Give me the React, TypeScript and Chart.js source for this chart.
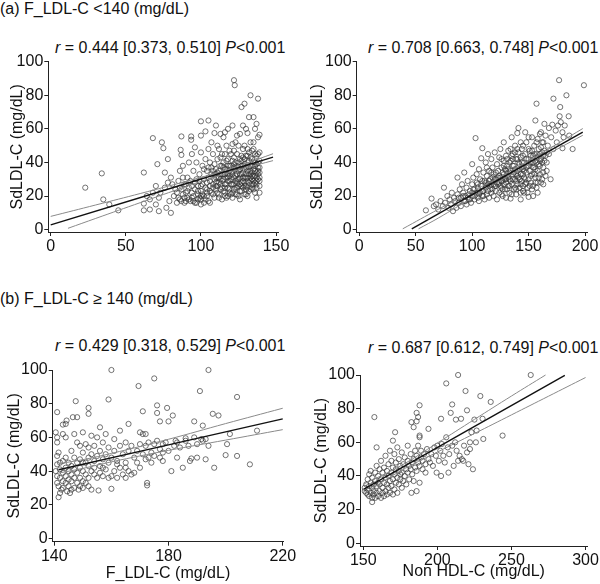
import React, { useEffect, useRef } from "react";
import { Chart, registerables } from "chart.js";

Chart.register(...registerables);

const FONT = '"Liberation Sans", Arial, Helvetica, sans-serif';
const TICK_FONT = '"Liberation Sans Narrow", "Liberation Sans", Arial, sans-serif';

// ---------------- tick labels ----------------
const yTicks = [0, 20, 40, 60, 80, 100];
const p1XTicks = [0, 50, 100, 150];
const p2XTicks = [0, 50, 100, 150, 200];
const p3XTicks = [140, 180, 220];
const p4XTicks = [150, 200, 250, 300];

// ---------------- texts ----------------
const headerA = "(a) F_LDL-C <140 (mg/dL)";
const headerB = "(b) F_LDL-C \u2265 140 (mg/dL)";
const yTitle = "SdLDL-C (mg/dL)";
const p3XTitle = "F_LDL-C (mg/dL)";
const p4XTitle = "Non HDL-C (mg/dL)";
const stats1 = ["0.444 [0.373, 0.510]", "<0.001"];
const stats2 = ["0.708 [0.663, 0.748]", "<0.001"];
const stats3 = ["0.429 [0.318, 0.529]", "<0.001"];
const stats4 = ["0.687 [0.612, 0.749]", "<0.001"];

// ---------------- panel 1: F_LDL-C <140, x = F_LDL-C ----------------
const p1Points: number[][] = [
  [23, 25], [34, 33.5], [35, 18], [39, 15], [45, 11.5], [62, 34], [62, 11.5], [62, 15.5], [64, 20], [66, 18],
  [68, 54.5], [74, 52], [75, 48.5], [71, 39], [78, 42], [76, 34], [80, 10], [70, 15], [72, 19], [70, 26],
  [73, 22], [68, 22], [66, 12], [72, 11], [77, 13], [79, 17], [76, 25], [78, 28], [80, 31], [82, 20],
  [83, 24], [84, 16], [85, 29], [86, 35], [87, 55.5], [86.5, 47.5], [87, 44.5], [88, 38], [89, 27], [90, 22],
  [90, 17], [91, 31], [92, 25], [93, 17], [93.5, 55.5], [93.5, 53.5], [94, 45], [95, 35], [95, 20], [96, 28],
  [96, 16], [97, 40], [98, 23], [98, 18], [99, 33], [100, 64.5], [100, 56], [100, 46], [100, 26], [100, 15],
  [101, 38], [102, 30], [102, 20], [103, 58.5], [103, 42], [104, 24], [104, 35], [105, 65], [105, 48], [105, 17],
  [106, 29], [106, 40], [107, 22], [107, 33], [108, 45], [108, 27], [109, 57.5], [109, 19], [110, 36], [110, 24],
  [110, 31], [111, 50], [111, 42], [112, 21], [112, 28], [113, 38], [113, 33], [114, 18], [114, 25], [114, 45],
  [115, 30], [115, 55], [116, 22], [116, 36], [117, 41], [117, 27], [118, 60], [118, 33], [118, 20], [119, 47],
  [119, 24], [120, 38], [120, 30], [121, 62], [121, 35], [121, 22], [122, 89], [122.5, 86], [122, 43], [122, 27],
  [123, 52], [123, 32], [124, 25], [124, 38], [124, 45], [125, 30], [125, 20], [125, 35], [126, 42], [126, 27],
  [126, 57], [127, 73], [127, 33], [127, 23], [128, 48], [128, 38], [128, 29], [129, 75], [129, 36], [129, 26],
  [130, 44], [130, 31], [130, 21], [131, 57.5], [131, 20], [131, 35], [131, 40], [132, 67], [132, 28], [132, 46],
  [133, 80], [133, 33], [133, 24], [133, 52], [134, 38], [134, 42], [134, 30], [135, 67], [135, 27], [135, 36],
  [135, 48], [136, 60], [136, 32], [136, 22], [137, 63], [137, 19], [137, 44], [137, 29], [138, 78], [138, 35],
  [138, 40], [138, 55], [139, 56.5], [139, 31], [139, 46], [139, 26], [100, 20], [103, 18], [106, 16], [108, 35],
  [111, 26], [115, 40], [119, 29], [123, 21], [127, 44], [129, 42], [132, 37], [134, 34], [136, 40], [120, 45],
  [117, 50], [112, 48], [96, 49], [92, 40], [88, 31], [84, 22], [81, 27], [99, 29], [102, 36], [107, 52],
  [113, 57], [116, 58], [124, 56], [128, 62], [130, 60], [125, 50], [121, 51], [110, 62], [118, 29], [126, 36],
  [131, 31], [133, 29], [137, 34], [138, 30], [139, 37], [136, 45], [134, 25], [128, 34], [122, 37], [119, 35],
  [114, 33], [109, 30], [104, 28], [98, 21], [94, 26], [91, 19], [87, 24], [105, 31], [106, 23], [107, 37],
  [108, 21], [109, 39], [110, 28], [111, 34], [112, 31], [113, 24], [113, 43], [114, 29], [115, 23], [115, 37],
  [116, 33], [116, 27], [117, 31], [117, 19], [118, 25], [118, 42], [119, 38], [120, 21], [120, 34], [121, 27],
  [121, 41], [122, 31], [122, 24], [123, 36], [123, 29], [124, 33], [124, 21], [125, 40], [125, 26], [126, 31],
  [126, 23], [127, 38], [127, 28], [128, 25], [128, 43], [129, 31], [129, 21], [130, 37], [130, 26], [131, 29],
  [131, 44], [132, 33], [132, 23], [133, 38], [133, 43], [134, 27], [134, 47], [135, 32], [135, 40], [136, 28],
  [136, 35], [137, 39], [137, 25], [138, 33], [138, 45], [139, 29], [139, 41], [85, 19], [86, 25], [87, 17],
  [88, 21], [89, 19], [90, 27], [91, 23], [92, 18], [93, 29], [94, 22], [95, 17], [96, 24], [97, 30],
  [98, 26], [99, 19], [100, 23], [101, 27], [102, 16], [103, 25], [104, 20], [110, 26], [111, 22], [112, 35],
  [113, 27], [114, 38], [115, 33], [116, 25], [117, 36], [118, 31], [119, 22], [120, 27], [121, 33], [122, 39],
  [123, 25], [124, 30], [125, 37], [126, 33], [127, 26], [128, 31], [129, 39], [130, 33], [131, 25], [132, 41],
  [133, 35], [134, 32], [135, 29], [136, 38], [137, 31], [138, 37], [139, 34], [112, 19], [116, 20], [121, 19],
  [126, 18], [130, 24], [135, 24], [139, 22], [108, 25], [104, 22], [100, 18], [97, 16], [94, 19], [89, 16],
  [86, 18], [101, 21], [106, 26], [111, 31], [119, 32], [124, 28], [129, 28], [133, 31], [137, 27], [127, 41],
  [123, 40], [118, 38], [113, 30], [109, 33], [105, 37], [131, 48], [135, 52], [129, 50], [122, 47], [116, 45],
];
const p1Fit: number[][] = [[0, 2.8], [148, 43.2]];
const p1Upper: number[][] = [[0, 7.9], [30, 14.7], [60, 21.6], [90, 28.7], [110, 33.7], [130, 39.5], [148, 45.2]];
const p1Lower: number[][] = [[11.5, 0.8], [30, 6.7], [60, 16.2], [90, 25.6], [110, 31.6], [130, 36.8], [148, 41.1]];

// ---------------- panel 2: F_LDL-C <140, x = Non HDL-C ----------------
const p2Points: number[][] = [
  [59, 11.5], [64, 18.5], [66, 14], [68, 15], [70, 12], [72, 17], [75, 25], [74, 14], [76, 16], [78, 20],
  [79, 13], [80, 18], [81, 15], [82, 22], [83, 11], [84, 19], [85, 17], [86, 13], [87, 31], [87, 21],
  [88, 16], [89, 24], [90, 19], [90, 14], [91, 27], [92, 22], [93, 34], [93, 17], [94, 20], [95, 25],
  [95, 15], [96, 29], [97, 21], [97, 18], [98, 23], [99, 16], [100, 39], [100, 27], [100, 20], [101, 31],
  [102, 18], [102, 24], [103, 54.5], [103, 22], [104, 28], [104, 33], [105, 19], [105, 25], [106, 36], [106, 17],
  [107, 30], [107, 22], [108, 42.5], [108, 26], [109, 48.5], [109, 20], [110, 34], [110, 23], [111, 29], [111, 18],
  [112, 40], [112, 25], [113, 32], [113, 21], [114, 27], [114, 45], [115, 35], [115, 19], [116, 24], [116, 30],
  [117, 42], [117, 22], [118, 28], [118, 37], [119, 33], [119, 20], [120, 46], [120, 26], [121, 30], [121, 23],
  [122, 39], [122, 18], [123, 35], [123, 27], [124, 43], [124, 22], [125, 31], [125, 48], [126, 25], [126, 37],
  [127, 29], [127, 20], [128, 52], [128, 33], [128, 41], [129, 24], [129, 36], [130, 28], [130, 44], [130, 19],
  [131, 32], [131, 38], [132, 26], [132, 47], [133, 30], [133, 22], [134, 18.5], [134, 35], [134, 41], [135, 27],
  [135, 55], [136, 33], [136, 45], [137, 24], [137, 38], [138, 30], [138, 50], [139, 21], [139, 42], [140, 57.5],
  [140, 35], [140, 27], [141, 60.5], [141, 31], [141, 46], [142, 25], [142, 39], [143, 18], [143, 43], [143, 33],
  [144, 29], [144, 48], [145, 36], [145, 23], [146, 40], [146, 31], [147, 45], [147, 27], [148, 34], [148, 52],
  [149, 38], [149, 25], [150, 19.5], [150, 42], [150, 30], [151, 47], [151, 35], [152, 28], [152, 40], [153, 55],
  [153, 33], [154, 44], [154, 26], [155, 37], [155, 50], [156, 65], [156, 31], [156, 41], [157, 75], [157, 45],
  [158, 35], [158, 28], [159, 48], [159, 39], [160, 57], [160, 33], [161, 58], [161, 42], [162, 30], [162, 46],
  [163, 52], [163, 37], [164, 63], [164, 41], [165, 44], [165, 56], [166, 40], [167, 50], [168, 60.5], [168, 45],
  [169.5, 30], [170, 55], [171, 62.5], [172, 78], [172, 48], [174, 59], [175, 52], [177, 89], [177.5, 67.5], [178, 73],
  [178.5, 64], [180, 48.5], [180, 58], [182, 62], [183.5, 80], [185.5, 67.5], [186, 56], [189, 48], [199, 86], [176, 62],
  [181, 55], [166, 35], [163, 27], [158, 22], [154, 20], [146, 22], [138, 25], [129, 30], [126, 21], [112, 28],
  [115, 26], [118, 24], [120, 30], [122, 28], [124, 32], [126, 29], [128, 27], [130, 35], [132, 31], [134, 29],
  [136, 38], [138, 36], [140, 32], [142, 36], [144, 40], [146, 35], [148, 42], [150, 38], [152, 44], [154, 40],
  [156, 36], [158, 43], [160, 45], [162, 40], [164, 47], [145, 44], [141, 40], [137, 34], [133, 40], [127, 34],
  [123, 31], [119, 27], [114, 23], [110, 20], [106, 21], [102, 20], [98, 18], [94, 17], [131, 24], [135, 21],
  [139, 29], [143, 27], [147, 30], [151, 26], [155, 33], [159, 31], [163, 34], [158, 54], [150, 55], [143, 52],
  [147, 58], [138, 46], [134, 48], [126, 42], [117, 34], [113, 37], [109, 29], [105, 27], [101, 24], [115, 29],
  [118, 31], [121, 26], [124, 28], [127, 31], [130, 30], [133, 34], [136, 30], [139, 33], [142, 30], [145, 33],
  [148, 37], [151, 40], [154, 37], [157, 40], [160, 38], [163, 44], [148, 28], [152, 32], [156, 28], [160, 41],
  [144, 37], [140, 42], [136, 42], [132, 36], [128, 38], [125, 26], [121, 34], [117, 27], [113, 26], [109, 23],
  [105, 22], [100, 22], [96, 19], [92, 20], [88, 19], [140, 48], [145, 50], [150, 48], [155, 45], [161, 49],
  [166, 46], [162, 52], [157, 52], [153, 47], [135, 44], [131, 42], [127, 24], [143, 22], [149, 22], [157, 25],
  [161, 28], [165, 32], [153, 24], [145, 26], [139, 24], [133, 26],
];
const p2Fit: number[][] = [[46.5, 0.5], [198, 58.1]];
const p2Upper: number[][] = [[38.5, 0.5], [70, 12.1], [100, 22.7], [130, 33.4], [160, 44.9], [198, 60.2]];
const p2Lower: number[][] = [[52.5, 0.5], [70, 6.9], [100, 19.0], [130, 31.1], [160, 42.3], [198, 56.2]];

// ---------------- panel 3: F_LDL-C >=140, x = F_LDL-C ----------------
const p3Points: number[][] = [
  [160, 100], [194, 100], [175, 95], [169.5, 90.5], [191, 87.5], [204, 84], [159, 82.5], [147.5, 81.5], [141, 75], [152, 77.5],
  [152, 74], [146.5, 72], [148, 72], [144.3, 70], [143, 67.6], [171, 75.5], [176, 79], [179.5, 77.5], [176, 74.5], [181.5, 73],
  [180, 69.5], [177, 69.5], [195.5, 74], [197.5, 73], [189, 69.5], [192, 67], [201.5, 62], [211, 64], [200.5, 56], [204, 49],
  [208.5, 44], [196, 42], [200, 49.5], [193, 47], [190, 48], [188, 47.5], [187.5, 46], [185, 42], [181, 40], [172.5, 33],
  [172.5, 31.5], [141.5, 24.5], [155.5, 28.5], [160, 29.5], [191.5, 59], [186, 59.5], [182.5, 58], [140.5, 63], [141, 60], [141, 57],
  [141.5, 51], [141, 49], [141, 44], [140.5, 40], [141, 37], [141, 33], [141.5, 31], [142, 45], [142, 41], [142, 36],
  [142.5, 29], [142, 27], [143, 62], [143, 46], [143, 39], [143, 34], [143, 30], [144, 68], [144, 60], [144, 48],
  [144, 42], [144, 37], [144, 33], [144.5, 28], [145, 45], [145, 40], [145, 35], [145, 31], [145.5, 27], [146, 52],
  [146, 43], [146, 38], [146, 34], [146, 29], [147, 62], [147, 48], [147, 41], [147, 36], [147, 30], [148, 57],
  [148, 45], [148, 39], [148, 33], [148.5, 29], [149, 55], [149, 47], [149, 42], [149, 36], [149, 31], [150, 63],
  [150, 51], [150, 40], [150, 34], [150, 30], [151, 56], [151, 45], [151, 38], [151, 33], [152, 54], [152, 48],
  [152, 43], [152, 36], [152, 31], [153, 61], [153, 50], [153, 40], [153, 29], [154, 55], [154, 46], [154, 38],
  [154, 42], [155, 49], [155, 36], [155, 60], [156, 66], [156, 52], [156, 43], [156, 39], [157, 57], [157, 47],
  [157, 37], [158, 62], [158, 50], [158, 41], [159, 54], [159, 45], [159, 36], [160, 48], [160, 37], [161, 59],
  [161, 52], [161, 40], [162, 46], [162, 36], [163, 64], [163, 55], [163, 42], [164, 50], [164, 38], [165, 57],
  [165, 45], [165, 36], [166, 68], [166, 52], [166, 40], [167, 55], [167, 38], [168, 48], [168, 39], [169, 52],
  [169, 45], [170, 63], [170, 56], [170, 42], [171, 62], [171, 50], [172, 62], [172, 55], [172, 47], [173, 57],
  [173, 48], [174, 51], [174, 45], [175, 56], [175, 49], [176, 58], [177, 53], [177, 48], [178, 56], [178, 51],
  [179, 57], [180, 52], [182, 55], [183, 57], [184, 54], [186, 58], [187, 55], [189, 60], [190, 56], [192, 58],
  [193, 59], [194, 55], [183, 48], [178, 46], [165, 42], [162, 44], [157, 42], [150, 45],
];
const p3Fit: number[][] = [[141.5, 40.8], [220, 71.0]];
const p3Upper: number[][] = [[141.5, 44.4], [150, 46.8], [160, 50.5], [180, 58.9], [200, 68.2], [220, 77.3]];
const p3Lower: number[][] = [[141.5, 38.8], [150, 41.6], [160, 45.5], [180, 52.3], [200, 58.4], [220, 64.6]];

// ---------------- panel 4: F_LDL-C >=140, x = Non HDL-C ----------------
const p4Points: number[][] = [
  [214, 100], [263, 100], [206, 95], [219, 90.5], [229, 87.5], [236, 84], [157.5, 75], [188, 82], [186, 77.5], [187, 75],
  [186, 72.5], [210, 82.5], [209, 77.5], [220, 79], [212.5, 73.5], [216, 74], [202.5, 74], [225, 73.5], [230.5, 74], [244, 64],
  [226.5, 67], [231, 62], [224, 44], [222, 56], [222, 60], [216.5, 50], [217.5, 49], [202.5, 40], [199.5, 42], [207.5, 42],
  [182.5, 30], [186, 31], [156, 24.5], [159, 57], [171.5, 66], [170, 61], [182.5, 72], [184, 69], [188, 64], [188, 63],
  [194, 68], [151, 31], [151, 33], [152, 30], [152, 35], [153, 29], [153, 32], [153, 38], [154, 28], [154, 34],
  [154, 41], [155, 30], [155, 36], [155, 43], [156, 27], [156, 33], [156, 39], [157, 29], [157, 35], [157, 31],
  [158, 27], [158, 37], [158, 42], [159, 30], [159, 34], [159, 46], [160, 28], [160, 36], [160, 40], [161, 31],
  [161, 44], [161, 35], [162, 27], [162, 38], [162, 49], [163, 30], [163, 33], [163, 42], [164, 28], [164, 36],
  [164, 45], [165, 31], [165, 39], [165, 52], [166, 29], [166, 35], [166, 43], [167, 33], [167, 40], [167, 47],
  [168, 30], [168, 37], [168, 55], [169, 34], [169, 42], [169, 49], [170, 29], [170, 38], [170, 45], [171, 32],
  [171, 41], [171, 53], [172, 36], [172, 44], [172, 48], [173, 30], [173, 39], [173, 57], [174, 35], [174, 43],
  [174, 50], [175, 38], [175, 46], [175, 41], [176, 33], [176, 42], [176, 54], [177, 37], [177, 47], [178, 40],
  [178, 51], [179, 35], [179, 44], [180, 42], [180, 49], [180, 58], [181, 38], [181, 46], [182, 44], [182, 53],
  [183, 41], [183, 48], [184, 50], [184, 37], [185, 45], [185, 55], [186, 43], [186, 52], [187, 48], [187, 58],
  [188, 46], [188, 36], [189, 51], [189, 55], [190, 44], [190, 49], [191, 53], [192, 47], [192, 42], [193, 56],
  [194, 50], [195, 48], [196, 53], [197, 46], [198, 57], [199, 52], [200, 58], [201, 49], [202, 55], [203, 59],
  [204, 52], [205, 48], [206, 63], [207, 57], [208, 53], [210, 58], [211, 46], [212, 60], [213, 55], [214, 49],
  [215, 52], [218, 58], [220, 54], [221, 47], [223, 66], [226, 60],
];
const p4Fit: number[][] = [[150.5, 32.2], [286, 99.8]];
const p4Upper: number[][] = [[150.5, 35.3], [175, 45.9], [200, 59.6], [225, 73.6], [250, 87.5], [273, 100]];
const p4Lower: number[][] = [[150.5, 29.5], [175, 42.9], [200, 54.2], [225, 65.2], [250, 76.3], [275, 87.4], [300, 98.5]];

type PanelProps = {
  points: number[][];
  fit: number[][];
  upper: number[][];
  lower: number[][];
  xTicks: number[];
  xMin: number;
  xMax: number;
  yMin: number;
  xTitle?: string;
  left: number;
  top: number;
  width: number;
  height: number;
  yScaleWidth: number;
  xScaleHeight: number;
  padTop: number;
  padRight: number;
  yTitlePad: number;
  xTitlePad: number;
};

const toXY = (arr: number[][]) => arr.map(([x, y]) => ({ x, y }));

function Panel(p: PanelProps) {
  const ref = useRef<HTMLCanvasElement | null>(null);
  useEffect(() => {
    if (!ref.current) return;
    const lineDs = (data: number[][], color: string, w: number) => ({
      data: toXY(data),
      showLine: true,
      pointRadius: 0,
      borderColor: color,
      borderWidth: w,
      fill: false,
      tension: 0.4,
      clip: false as any,
    });
    const chart = new Chart(ref.current, {
      type: "scatter",
      data: {
        datasets: [
          lineDs(p.fit, "#111111", 1.4),
          lineDs(p.upper, "#8a8a8a", 1),
          lineDs(p.lower, "#8a8a8a", 1),
          {
            data: toXY(p.points),
            showLine: false,
            pointRadius: 2.6,
            pointHoverRadius: 2.6,
            pointBorderWidth: 0.8,
            borderColor: "rgba(50,50,50,0.85)",
            backgroundColor: "rgba(0,0,0,0)",
            pointBackgroundColor: "rgba(0,0,0,0)",
            clip: false as any,
          } as any,
        ],
      },
      options: {
        animation: false,
        responsive: false,
        events: [],
        layout: { padding: { left: 0, top: p.padTop, right: p.padRight, bottom: 0 } },
        plugins: { legend: { display: false }, tooltip: { enabled: false }, title: { display: false } },
        scales: {
          x: {
            type: "linear",
            min: p.xMin,
            max: p.xMax,
            afterBuildTicks: (s: any) => {
              s.ticks = p.xTicks.map((v) => ({ value: v }));
            },
            afterFit: (s: any) => {
              s.height = p.xScaleHeight;
            },
            grid: { display: true, drawOnChartArea: false, drawTicks: true, tickLength: 4, color: "#222", lineWidth: 1 },
            border: { display: true, color: "#222", width: 1 },
            ticks: {
              color: "#111",
              font: { family: TICK_FONT, size: 16 },
              padding: 1,
              maxRotation: 0,
              autoSkip: false,
              callback: (v: any) => String(v),
            },
            title: p.xTitle
              ? {
                  display: true,
                  text: p.xTitle,
                  color: "#111",
                  font: { family: FONT, size: 16 },
                  padding: { top: 0, bottom: p.xTitlePad },
                }
              : { display: false },
          },
          y: {
            type: "linear",
            min: p.yMin,
            max: 100,
            afterBuildTicks: (s: any) => {
              s.ticks = yTicks.map((v) => ({ value: v }));
            },
            afterFit: (s: any) => {
              s.width = p.yScaleWidth;
            },
            grid: { display: true, drawOnChartArea: false, drawTicks: true, tickLength: 4, color: "#222", lineWidth: 1 },
            border: { display: true, color: "#222", width: 1 },
            ticks: {
              color: "#111",
              font: { family: TICK_FONT, size: 16 },
              padding: 1,
              autoSkip: false,
              callback: (v: any) => String(v),
            },
            title: {
              display: true,
              text: yTitle,
              color: "#111",
              font: { family: FONT, size: 16 },
              padding: { top: p.yTitlePad, bottom: 0 },
            },
          },
        },
      } as any,
    });
    return () => chart.destroy();
  }, []);
  return (
    <canvas
      ref={ref}
      width={p.width}
      height={p.height}
      style={{ position: "absolute", left: p.left, top: p.top, width: p.width, height: p.height }}
    />
  );
}

const textStyle: React.CSSProperties = {
  position: "absolute",
  fontFamily: FONT,
  fontSize: 16,
  lineHeight: "18px",
  color: "#111",
  whiteSpace: "nowrap",
};

function Stats({ s, left, top }: { s: string[]; left: number; top: number }) {
  return (
    <div style={{ ...textStyle, left, top }}>
      <i>r</i> = {s[0]} <i>P</i>
      {s[1]}
    </div>
  );
}

export default function App() {
  return (
    <div
      style={{
        position: "absolute",
        left: 0,
        top: 0,
        width: 600,
        height: 584,
        overflow: "hidden",
        background: "#fff",
      }}
    >
      <div style={{ ...textStyle, left: 0, top: -0.5 }}>{headerA}</div>
      <div style={{ ...textStyle, left: 0, top: 289.5 }}>{headerB}</div>
      <Stats s={stats1} left={55} top={38.5} />
      <Stats s={stats2} left={368} top={38.5} />
      <Stats s={stats3} left={55} top={337} />
      <Stats s={stats4} left={368} top={338.5} />

      <Panel
        points={p1Points} fit={p1Fit} upper={p1Upper} lower={p1Lower}
        xTicks={p1XTicks} xMin={-1.6} xMax={151.5} yMin={-1.4}
        left={0} top={50} width={295} height={210.3}
        yScaleWidth={48.3} xScaleHeight={28} padTop={11.7} padRight={16.7}
        yTitlePad={7.9} xTitlePad={0}
      />
      <Panel
        points={p2Points} fit={p2Fit} upper={p2Upper} lower={p2Lower}
        xTicks={p2XTicks} xMin={-2.3} xMax={202} yMin={-1.4}
        left={300} top={50} width={300} height={210.3}
        yScaleWidth={56.7} xScaleHeight={28} padTop={11.7} padRight={12.7}
        yTitlePad={7.9} xTitlePad={0}
      />
      <Panel
        points={p3Points} fit={p3Fit} upper={p3Upper} lower={p3Lower}
        xTicks={p3XTicks} xMin={139.44} xMax={220.2} yMin={-1.9} xTitle={p3XTitle}
        left={0} top={355} width={298} height={229}
        yScaleWidth={52.7} xScaleHeight={42.3} padTop={15} padRight={14.7}
        yTitlePad={5.4} xTitlePad={0.4}
      />
      <Panel
        points={p4Points} fit={p4Fit} upper={p4Upper} lower={p4Lower}
        xTicks={p4XTicks} xMin={147.8} xMax={301.3} yMin={-1.6} xTitle={p4XTitle}
        left={300} top={360} width={300} height={224}
        yScaleWidth={60} xScaleHeight={38} padTop={15} padRight={10.7}
        yTitlePad={12.1} xTitlePad={2.4}
      />
    </div>
  );
}
